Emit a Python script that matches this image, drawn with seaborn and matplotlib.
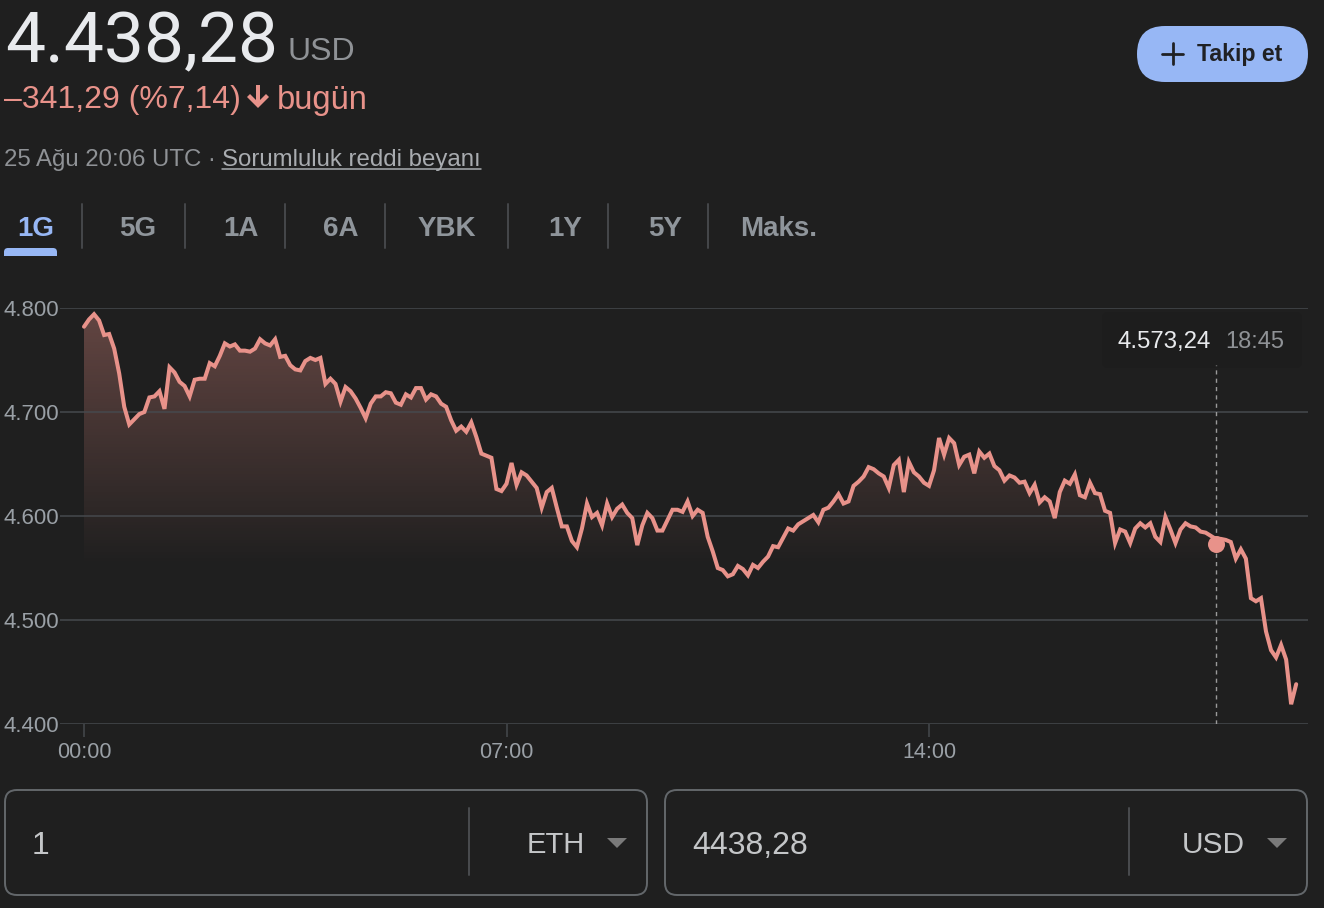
import numpy as np
import pandas as pd
import seaborn as sns
import matplotlib.pyplot as plt
from matplotlib.patches import FancyBboxPatch, Polygon, Rectangle

prices = [
    4782, 4789, 4794, 4788, 4774, 4775, 4761, 4737, 4705, 4688, 4693, 4698, 4700, 4714, 4715, 4720,
    4703, 4743, 4738, 4729, 4725, 4715, 4731, 4732, 4732, 4747, 4744, 4754, 4766, 4763, 4765, 4759,
    4759, 4758, 4761, 4770, 4766, 4764, 4770, 4753, 4754, 4745, 4741, 4740, 4749, 4752, 4750, 4752,
    4727, 4732, 4727, 4710, 4724, 4720, 4713, 4704, 4694, 4708, 4715, 4715, 4719, 4718, 4709, 4707,
    4717, 4714, 4723, 4723, 4712, 4717, 4715, 4708, 4705, 4692, 4682, 4686, 4681, 4690, 4676,
    4660, 4658, 4656, 4626, 4624, 4631, 4651, 4630, 4642, 4639, 4633, 4627, 4608, 4623, 4627, 4608,
    4590, 4590, 4576, 4570, 4588, 4612, 4599, 4603, 4591, 4612, 4599, 4607, 4611, 4603, 4598, 4572,
    4591, 4603, 4598, 4586, 4586, 4596, 4606, 4606, 4604, 4614, 4600, 4606, 4603, 4580, 4566, 4550,
    4548, 4542, 4544, 4552, 4549, 4543, 4553, 4550, 4556, 4561, 4571, 4570, 4579, 4588, 4586, 4592,
    4595, 4598, 4601, 4594, 4606, 4608, 4614, 4621, 4612, 4614, 4629, 4633, 4638, 4647, 4645, 4641,
    4638, 4627, 4649, 4654, 4623, 4652, 4642, 4638, 4632, 4629, 4644, 4675, 4659, 4675, 4670, 4649,
    4657, 4659, 4641, 4662, 4656, 4660, 4648, 4644, 4634, 4639, 4637, 4632, 4633, 4622, 4630, 4613,
    4618, 4614, 4598, 4623, 4634, 4631, 4640, 4620, 4618, 4632, 4622, 4621, 4605, 4603, 4574, 4587,
    4585, 4574, 4588, 4593, 4589, 4593, 4580, 4575, 4599, 4587, 4574, 4587, 4593, 4590, 4589, 4585,
    4584, 4581, 4578, 4578, 4577, 4575, 4559, 4568, 4559, 4521, 4518, 4521, 4489, 4471, 4464, 4476,
    4462, 4419, 4438.28,
]
y_ticks = [4400, 4500, 4600, 4700, 4800]
y_labels = ["4.400", "4.500", "4.600", "4.700", "4.800"]
x_ticks = [0, 420, 840]
x_labels = ["00:00", "07:00", "14:00"]
hover_minute = 1125
hover_price = 4573.24
tabs = ["1G", "5G", "1A", "6A", "YBK", "1Y", "5Y", "Maks."]

BG = "#1f1f1f"
LINE = "#e8928a"
GREY = "#9aa0a6"
GRID = "#46494d"
BLUE = "#97b7f5"

sns.set_theme(style="dark", rc={"axes.facecolor": "none", "figure.facecolor": BG, "savefig.facecolor": BG})
plt.rcParams["font.family"] = ["Liberation Sans", "DejaVu Sans"]

fig = plt.figure(figsize=(13.24, 9.08), dpi=100)

# page furniture, in pixel coordinates
ui = fig.add_axes([0, 0, 1, 1])
ui.set_xlim(0, 1324)
ui.set_ylim(908, 0)
ui.axis("off")

ui.text(5, 43, "4.438,28", fontsize=51.3, family="Roboto", color="#e8eaed", va="center")
ui.text(288, 52, "USD", fontsize=23, color="#8f9296", va="center")
ui.text(4, 100, "–341,29 (%7,14)", fontsize=23, color=LINE, va="center")
ui.add_patch(Polygon([[256, 85], [260, 85], [260, 100], [266, 94], [269, 97], [258, 108], [247, 97], [250, 94], [256, 100]],
                     fc=LINE, ec="none"))
ui.text(277, 100, "bugün", fontsize=23.5, color=LINE, va="center")
ui.text(4, 160, "25 Ağu 20:06 UTC ·", fontsize=17.3, color="#8f9296", va="center")
ui.text(222, 160, "Sorumluluk reddi beyanı", fontsize=17.3, color="#a9acb0", va="center")
ui.plot([222, 481], [169, 169], color="#a9acb0", lw=1.1)

# follow button
ui.add_patch(FancyBboxPatch((1137 + 28, 26 + 28), 171 - 56, 0, boxstyle="round,pad=28", fc=BLUE, ec="none"))
ui.plot([1162, 1183], [54, 54], color="#202124", lw=2)
ui.plot([1172.5, 1172.5], [43, 64], color="#202124", lw=2)
ui.text(1197, 55, "Takip et", fontsize=16.7, fontweight="bold", color="#202124", va="center")

# range tabs
tab_x = [36, 138, 241, 341, 447, 565, 665, 779]
for name, x in zip(tabs, tab_x):
    ui.text(x, 229, name, fontsize=20, fontweight="bold", ha="center", va="center",
            color=BLUE if name == "1G" else "#8f959b")
for x in [82, 185, 285, 385, 508, 608, 708]:
    ui.plot([x, x], [204, 248], color="#46484b", lw=1.4)
ui.add_patch(FancyBboxPatch((8, 252), 45, 8, boxstyle="round,pad=4", fc=BLUE, ec="none"))
ui.add_patch(Rectangle((0, 256), 70, 12, fc=BG, ec="none", zorder=3))

# hover tooltip
ui.add_patch(FancyBboxPatch((1108, 318), 188, 44, boxstyle="round,pad=6", fc="#1d1d1d", ec="none"))
ui.text(1118, 342, "4.573,24", fontsize=17.3, color="#e8eaed", va="center")
ui.text(1225, 342, "18:45", fontsize=17, color="#8f9296", va="center")

# converter boxes
for x0, x1, div, value, cur, cur_x, tri, cur_size in [
    (5, 647, 469, "1", "ETH", 527, 617, 21),
    (665, 1307, 1129, "4438,28", "USD", 1182, 1277, 21.5),
]:
    ui.add_patch(FancyBboxPatch((x0 + 12, 790 + 12), x1 - x0 - 24, 105 - 24, boxstyle="round,pad=12",
                                fc="none", ec="#63676b", lw=1.4))
    ui.plot([div, div], [808, 875], color="#4a4c4f", lw=1.4)
    ui.text(x0 + 27, 846, value, fontsize=23, color="#c4c6c8", va="center")
    ui.text(cur_x, 845, cur, fontsize=cur_size, color="#c4c6c8", va="center")
    ui.add_patch(Polygon([[tri - 10, 838], [tri + 10, 838], [tri, 848]], fc="#7a7a7a", ec="none"))

# chart axes: 4800 sits at y=308px, 4400 at y=724px, 00:00 at x=84px
left, right, top, bottom = 60, 1308, 308, 724
ax = fig.add_axes([left / 1324, 1 - bottom / 908, (right - left) / 1324, (bottom - top) / 908])
px_per_min = (929 - 84) / 840

df = pd.DataFrame({"minute": np.arange(len(prices)) * 5, "price": prices})

# fading fill under the line
fade = np.zeros((256, 2, 4))
fade[..., :3] = [0.93, 0.58, 0.54]
fade[..., 3] = np.linspace(0.33, 0, 256)[:, None]
area = ax.fill_between(df["minute"], df["price"], 4400, color="none", lw=0)
img = ax.imshow(fade, extent=[0, df["minute"].iloc[-1], 4550, 4794], aspect="auto", origin="upper", zorder=1)
img.set_clip_path(area.get_paths()[0], ax.transData)

sns.lineplot(data=df, x="minute", y="price", color=LINE, linewidth=2.9, errorbar=None, ax=ax, zorder=4,
             solid_joinstyle="miter")
ax.vlines(hover_minute, 4400, 4745, color="#9a9a9a", lw=1, linestyles=(0, (3, 3)), zorder=3)
sns.scatterplot(x=[hover_minute], y=[hover_price], color=LINE, s=150, linewidth=0, ax=ax, zorder=5)

ax.set_xlim((left - 84) / px_per_min, (right - 84) / px_per_min)
ax.set_ylim(4400, 4800)
ax.set_xlabel("")
ax.set_ylabel("")
ax.set_yticks(y_ticks, y_labels)
ax.set_xticks(x_ticks, x_labels)
ax.grid(axis="y", color=GRID, lw=1.1, zorder=2)
ax.grid(axis="x", visible=False)
ax.set_axisbelow(False)
ax.tick_params(axis="y", length=0, pad=0.7, labelsize=16, labelcolor=GREY)
ax.tick_params(axis="x", length=9, width=1.1, color=GRID, pad=3.7, labelsize=15.5, labelcolor=GREY, bottom=True)
for side in ["top", "left", "right", "bottom"]:
    ax.spines[side].set_visible(False)

fig.savefig("out.png", dpi=100)
